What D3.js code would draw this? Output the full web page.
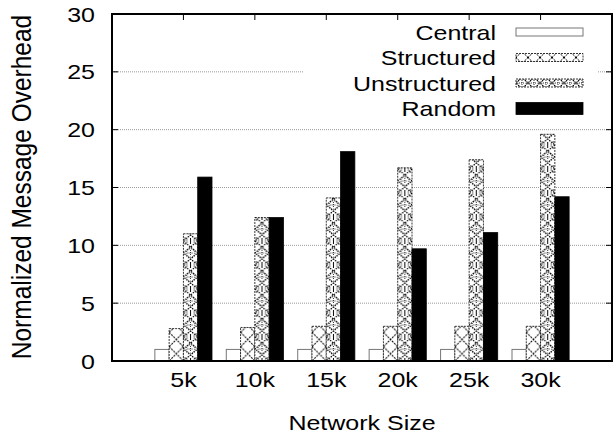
<!DOCTYPE html>
<html>
<head>
<meta charset="utf-8">
<script src="https://cdn.jsdelivr.net/npm/d3@7"></script>
<style>
  body { margin: 0; background: #fff; }
  text { font-family: "Liberation Sans", Arial, Helvetica, sans-serif; fill: #000; }
</style>
</head>
<body>
<svg width="616" height="435"></svg>
<script>
// data
var sizes = ["5k", "10k", "15k", "20k", "25k", "30k"];
var seriesNames = ["Central", "Structured", "Unstructured", "Random"];
var central = [1.0, 1.0, 1.0, 1.0, 1.0, 1.0];
var structured = [2.8, 2.9, 3.0, 3.0, 3.0, 3.0];
var unstructured = [11.0, 12.4, 14.1, 16.7, 17.4, 19.6];
var random = [15.9, 12.4, 18.1, 9.7, 11.1, 14.2];
var yTicks = [0, 5, 10, 15, 20, 25, 30];

var series = [central, structured, unstructured, random];

var svg = d3.select("svg");
// note: "top" is taken by window.top, so plot edges get other names
var plotL = 112, plotR = 612, plotT = 14, plotB = 361;
var sx = 1.19; // glyphs are drawn a bit wider than normal

var x = d3.scaleLinear().domain([0, sizes.length + 1]).range([plotL, plotR]);
var y = d3.scaleLinear().domain([0, 30]).range([plotB, plotT]);
var bw = x(0.2) - x(0);

var defs = svg.append("defs");
var patCount = 0;

// one pattern per bar so the tiles line up with the bar's left edge
function makePattern(kind, x0, y0, w) {
    var id = "pat" + (patCount++);
    if (kind === 1) {
        var p = defs.append("pattern").attr("id", id)
            .attr("patternUnits", "userSpaceOnUse").attr("x", x0).attr("y", y0)
            .attr("width", w).attr("height", w);
        p.append("rect").attr("width", w).attr("height", w).attr("fill", "#fff");
        p.append("path").attr("d", "M0,0L" + w + "," + w + "M" + w + ",0L0," + w)
            .attr("stroke", "#000").attr("stroke-width", 1).attr("stroke-dasharray", "2,1").attr("fill", "none");
    } else {
        var h = 24, c = w / 2;
        var p = defs.append("pattern").attr("id", id)
            .attr("patternUnits", "userSpaceOnUse").attr("x", x0).attr("y", y0)
            .attr("width", w).attr("height", h);
        p.append("rect").attr("width", w).attr("height", h).attr("fill", "#fff");
        p.append("path").attr("d", "M0,0L" + w + ",12L0,24M" + w + ",0L0,12L" + w + ",24")
            .attr("stroke", "#000").attr("stroke-width", 1.1).attr("stroke-dasharray", "1.5,1").attr("fill", "none");
        p.append("circle").attr("cx", c).attr("cy", 12).attr("r", 4.2)
            .attr("stroke", "#000").attr("stroke-width", 0.9).attr("stroke-dasharray", "1,1").attr("fill", "none");
        p.append("path").attr("d", "M" + c + ",9V15M" + (c - 3) + ",12H" + (c + 3))
            .attr("stroke", "#000").attr("stroke-width", 0.8).attr("stroke-dasharray", "1,1");
        p.append("path").attr("d", "M" + c + ",0V3M" + c + ",21V24M1,3h1.5M" + (w - 2.5) + ",3h1.5M1,21h1.5M" + (w - 2.5) + ",21h1.5M" + (c - 4) + ",1h1M" + (c + 3) + ",1h1M" + (c - 4) + ",23h1M" + (c + 3) + ",23h1")
            .attr("stroke", "#000").attr("stroke-width", 1);
    }
    return "url(#" + id + ")";
}

function barFill(k, x0, y0, w) {
    if (k === 0) return "#fff";
    if (k === 3) return "#000";
    return makePattern(k, x0, y0, w);
}

function label(px, py, str, anchor, size, rot) {
    var t = svg.append("text")
        .attr("font-size", size)
        .attr("text-anchor", anchor)
        .text(str);
    if (rot) t.attr("transform", "translate(" + px + "," + py + ") rotate(-90) scale(1,1.12)");
    else t.attr("transform", "translate(" + px + "," + py + ") scale(" + sx + ",1)");
    return t;
}

// grid
svg.append("g").selectAll("line")
    .data(yTicks.filter(function (d) { return d > 0 && d < 30; }))
    .enter().append("line")
    .attr("x1", plotL).attr("x2", plotR)
    .attr("y1", function (d) { return y(d); })
    .attr("y2", function (d) { return y(d); })
    .attr("stroke", "#999").attr("stroke-width", 1)
    .attr("stroke-dasharray", "1,1");

// legend background covers the grid
svg.append("rect").attr("x", 303).attr("y", 16).attr("width", 295).attr("height", 102).attr("fill", "#fff");

// bars
series.forEach(function (vals, k) {
    svg.append("g").selectAll("rect")
        .data(vals).enter().append("rect")
        .attr("x", function (d, i) { return x(i + 1) - 2 * bw + k * bw; })
        .attr("y", function (d) { return y(d); })
        .attr("width", bw)
        .attr("height", function (d) { return y(0) - y(d); })
        .attr("fill", function (d, i) { return barFill(k, x(i + 1) - 2 * bw + k * bw, y(0), bw); })
        .attr("stroke", k === 0 ? "#777" : "#000")
        .attr("stroke-width", k === 0 ? 1 : 0.8)
        .attr("stroke-dasharray", k === 1 || k === 2 ? "2,1" : null);
});

// ticks
yTicks.forEach(function (v) {
    if (v > 0 && v < 30) {
        svg.append("line").attr("x1", plotL).attr("x2", plotL + 6).attr("y1", y(v)).attr("y2", y(v)).attr("stroke", "#000");
        svg.append("line").attr("x1", plotR - 6).attr("x2", plotR).attr("y1", y(v)).attr("y2", y(v)).attr("stroke", "#000");
    }
    label(95, y(v) + 7.5, v, "end", 21);
});
sizes.forEach(function (s, i) {
    svg.append("line").attr("x1", x(i + 1)).attr("x2", x(i + 1)).attr("y1", plotT).attr("y2", plotT + 6).attr("stroke", "#000");
    label(x(i + 1), 387, s, "middle", 21);
});

// frame
svg.append("rect").attr("x", plotL).attr("y", plotT)
    .attr("width", plotR - plotL).attr("height", plotB - plotT)
    .attr("fill", "none").attr("stroke", "#000").attr("stroke-width", 2);

// titles
label(362, 430, "Network Size", "middle", 21);
label(31, 187, "Normalized Message Overhead", "middle", 24.5, true);

// legend
seriesNames.forEach(function (name, k) {
    var cy = 32 + k * 25.5;
    label(496, cy + 7.5, name, "end", 21);
    var h = k === 3 ? 12 : 8;
    svg.append("rect").attr("x", 516).attr("y", cy - h / 2)
        .attr("width", 67).attr("height", h)
        .attr("fill", barFill(k, 516, cy - 12, 12))
        .attr("stroke", k === 0 ? "#777" : "#000")
        .attr("stroke-width", k === 0 ? 1 : 0.8)
        .attr("stroke-dasharray", k === 1 || k === 2 ? "2,1" : null);
});
</script>
</body>
</html>
